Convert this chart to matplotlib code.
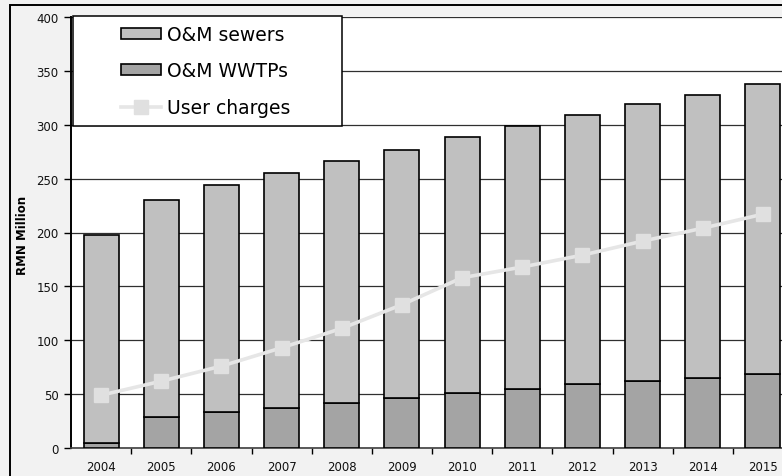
import matplotlib
matplotlib.use("Agg")
import matplotlib.pyplot as plt
from matplotlib.patches import Rectangle
from matplotlib.ticker import FixedLocator
import numpy as np

# Operation & maintenance costs vs. user charges (RMN million)
years = ["2004", "2005", "2006", "2007", "2008", "2009",
         "2010", "2011", "2012", "2013", "2014", "2015"]
om_wwtps = [5, 29, 33, 37, 42, 46, 51, 55, 59, 62, 65, 69]
om_sewers = [193, 201, 211, 218, 224, 231, 238, 244, 250, 257, 263, 269]
user_charges = [49, 62, 76, 93, 111, 133, 158, 168, 179, 192, 204, 217]
y_ticks = [0, 50, 100, 150, 200, 250, 300, 350, 400]

W, H = 782, 477
fig = plt.figure(figsize=(W / 100, H / 100), dpi=100, facecolor="#f2f2f2")

# outer chart frame
fig.add_artist(Rectangle((10 / W, -0.1), 1.2, (H - 6) / H + 0.1,
                         transform=fig.transFigure, fill=False,
                         edgecolor="black", linewidth=1.4))

ax = fig.add_axes([71 / W, (H - 449) / H, 722 / W, 431 / H])
ax.set_facecolor("white")

x = np.arange(len(years))
width = 0.58
h_wwtps = ax.bar(x, om_wwtps, width, color="#a4a4a4", edgecolor="black",
                 linewidth=1.2, label="O&M WWTPs", zorder=3)
h_sewers = ax.bar(x, om_sewers, width, bottom=om_wwtps, color="#c0c0c0",
                  edgecolor="black", linewidth=1.2, label="O&M sewers",
                  zorder=3)
(h_user,) = ax.plot(x, user_charges, color="#e6e6e6", linewidth=2.6,
                    marker="s", markersize=10, markerfacecolor="#e0e0e0",
                    markeredgecolor="#e0e0e0", label="User charges", zorder=4)

ax.set_xlim(-0.5, len(years) - 0.5)
ax.set_ylim(0, 400)
ax.set_yticks(y_ticks)
ax.set_xticks(x)
ax.set_xticklabels(years)
ax.xaxis.set_minor_locator(FixedLocator(np.arange(0.5, len(years) - 0.5, 1)))

ax.yaxis.grid(True, color="#303030", linewidth=0.9, zorder=0)
ax.set_axisbelow(True)

for side in ("top", "right"):
    ax.spines[side].set_visible(False)
ax.spines["left"].set_linewidth(1.4)
ax.spines["bottom"].set_color("#404040")
ax.spines["bottom"].set_linewidth(1.2)

ax.tick_params(axis="y", direction="out", length=5, width=1, pad=4,
               labelsize=8.5)
ax.tick_params(axis="x", which="major", length=0, pad=9, labelsize=8.5)
ax.tick_params(axis="x", which="minor", direction="out", length=4, width=1)
for lab in ax.get_xticklabels() + ax.get_yticklabels():
    lab.set_fontfamily("DejaVu Sans")
    lab.set_color("#111111")

fig.text(23 / W, 1 - 235 / H, "RMN Million", rotation=90, ha="center",
         va="center", fontsize=8.5, fontweight="bold", family="DejaVu Sans")

# legend box
ax.add_patch(Rectangle((73 / W, (H - 127) / H), 269 / W, 110 / H,
                       transform=fig.transFigure, facecolor="white",
                       edgecolor="black", linewidth=1.1, clip_on=False,
                       zorder=4.5))
leg = ax.legend([h_sewers, h_wwtps, h_user],
                ["O&M sewers", "O&M WWTPs", "User charges"],
                loc="upper left", bbox_to_anchor=(121 / W, (H - 26) / H),
                bbox_transform=fig.transFigure, frameon=False,
                prop=dict(family="DejaVu Sans", size=13.5),
                handlelength=2.15, handleheight=0.55, handletextpad=0.28,
                labelspacing=0.93, borderpad=0, borderaxespad=0)
leg.set_zorder(5)

fig.savefig("out.png", dpi=100, facecolor=fig.get_facecolor())
